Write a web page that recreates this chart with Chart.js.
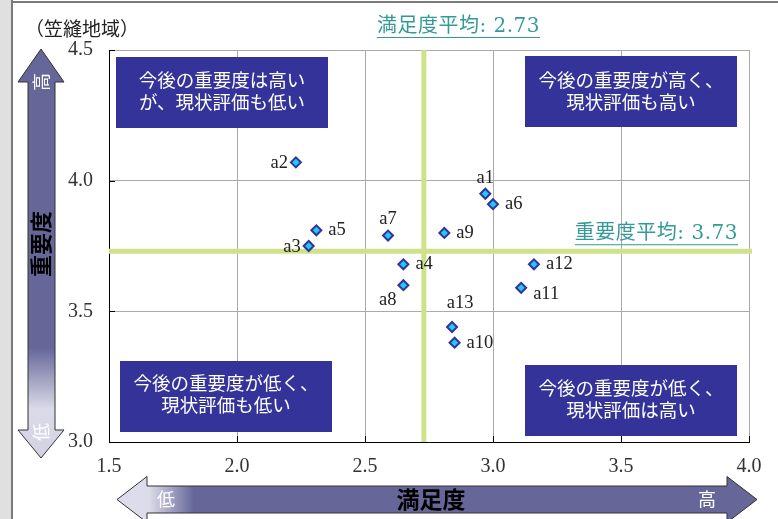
<!DOCTYPE html>
<html><head><meta charset="utf-8">
<script src="https://cdn.jsdelivr.net/npm/chart.js@4"></script>
<style>html,body{margin:0;padding:0;background:#fff}#wrap{width:778px;height:519px;position:relative}</style>
</head><body><div id="wrap"><canvas id="c"></canvas></div>
<script>
// ---- data ----
const pointNames   = ['a1','a2','a3','a4','a5','a6','a7','a8','a9','a10','a11','a12','a13'];
const satisfaction = [2.97, 2.23, 2.28, 2.65, 2.31, 3.00, 2.59, 2.65, 2.81, 2.85, 3.11, 3.16, 2.84];
const importance   = [3.95, 4.07, 3.75, 3.68, 3.81, 3.91, 3.79, 3.60, 3.80, 3.38, 3.59, 3.68, 3.44];
const labelSide    = ['above','left','left','right','right','right','above','belowLeft','right','right','rightLow','right','aboveHigh'];
const xTickValues  = [1.5, 2.0, 2.5, 3.0, 3.5, 4.0];
const yTickValues  = [3.0, 3.5, 4.0, 4.5];
const satisfactionMean = 2.73;
const importanceMean   = 3.73;
const regionTitle = '（笠縫地域）';
const xAxisTitle = '満足度';
const yAxisTitle = '重要度';
const highText = '高', lowText = '低';
const quadrantTopLeft     = ['今後の重要度は高い', 'が、現状評価も低い'];
const quadrantTopRight    = ['今後の重要度が高く、', '現状評価も高い'];
const quadrantBottomLeft  = ['今後の重要度が低く、', '現状評価も低い'];
const quadrantBottomRight = ['今後の重要度が低く、', '現状評価は高い'];

const points = satisfaction.map((x, i) => ({x: x, y: importance[i]}));
const SERIF = '"Liberation Serif", "DejaVu Serif", "Noto Sans CJK JP", serif';
const WSERIF = '"DejaVu Serif", "Noto Sans CJK JP", serif';
const SANS = '"Noto Sans CJK JP", "Noto Sans", sans-serif';
const NAVY = '#333399', ARROW = '#666699', TEAL = '#339999', MEAN = '#cfe28a';

function arrowV(ctx) {
  const g = ctx.createLinearGradient(0, 49, 0, 458);
  g.addColorStop(0, ARROW); g.addColorStop(0.73, ARROW);
  g.addColorStop(0.88, '#dadae8'); g.addColorStop(1, '#d2d2e4');
  ctx.beginPath();
  ctx.moveTo(41, 49); ctx.lineTo(64, 82); ctx.lineTo(55, 82); ctx.lineTo(55, 430);
  ctx.lineTo(64, 430); ctx.lineTo(41, 458); ctx.lineTo(18, 430); ctx.lineTo(28, 430);
  ctx.lineTo(28, 82); ctx.lineTo(18, 82); ctx.closePath();
  ctx.fillStyle = g; ctx.fill();
  ctx.strokeStyle = '#333'; ctx.lineWidth = 1; ctx.stroke();
}
function arrowH(ctx) {
  const cy = 499.5;
  const g = ctx.createLinearGradient(117, 0, 757, 0);
  g.addColorStop(0, '#dcdcea'); g.addColorStop(0.05, '#dcdcea');
  g.addColorStop(0.12, ARROW); g.addColorStop(1, ARROW);
  ctx.beginPath();
  ctx.moveTo(117, cy); ctx.lineTo(147, cy - 23); ctx.lineTo(147, cy - 13.5); ctx.lineTo(727, cy - 13.5);
  ctx.lineTo(727, cy - 23); ctx.lineTo(757, cy); ctx.lineTo(727, cy + 23); ctx.lineTo(727, cy + 13.5);
  ctx.lineTo(147, cy + 13.5); ctx.lineTo(147, cy + 23); ctx.closePath();
  ctx.fillStyle = g; ctx.fill();
  ctx.strokeStyle = '#333'; ctx.lineWidth = 1; ctx.stroke();
}
function rotText(ctx, t, x, y, font, color) {
  ctx.save(); ctx.translate(x, y); ctx.rotate(-Math.PI / 2);
  ctx.font = font; ctx.fillStyle = color; ctx.textAlign = 'center'; ctx.textBaseline = 'middle';
  ctx.fillText(t, 0, 0); ctx.restore();
}
function box(ctx, x, y, w, h, lines, line1Y) {
  ctx.fillStyle = NAVY; ctx.fillRect(x, y, w, h);
  ctx.fillStyle = '#fff'; ctx.font = '18.5px ' + SANS; ctx.textAlign = 'center'; ctx.textBaseline = 'middle';
  lines.forEach((t, i) => ctx.fillText(t, x + w / 2, line1Y + i * 22));
}
function underlined(ctx, t, x, y, align) {
  ctx.save();
  ctx.font = '20px ' + WSERIF; ctx.fillStyle = TEAL; ctx.textAlign = align; ctx.textBaseline = 'middle';
  ctx.letterSpacing = '0.5px';
  ctx.fillText(t, x, y);
  const w = ctx.measureText(t).width;
  const x0 = align === 'right' ? x - w : x;
  ctx.strokeStyle = TEAL; ctx.lineWidth = 1.2;
  ctx.beginPath(); ctx.moveTo(x0, y + 10.5); ctx.lineTo(x0 + w, y + 10.5); ctx.stroke();
  ctx.restore();
}

const decor = {
  id: 'decor',
  beforeDraw(chart) {
    const ctx = chart.ctx;
    ctx.save();
    ctx.fillStyle = '#fff'; ctx.fillRect(0, 0, 778, 519);
    ctx.fillStyle = '#e0e0e0'; ctx.fillRect(0, 0, 11, 519);
    ctx.fillStyle = '#7a7a7a'; ctx.fillRect(11, 0, 2, 519); ctx.fillRect(11, 1, 767, 2);
    arrowV(ctx); arrowH(ctx);
    rotText(ctx, yAxisTitle, 41, 244, 'bold 22px ' + SANS, '#000');
    rotText(ctx, highText, 41, 82, '18px ' + SANS, '#fff');
    rotText(ctx, lowText, 41, 432, '18px ' + SANS, '#fff');
    ctx.textAlign = 'center'; ctx.textBaseline = 'middle';
    ctx.font = 'bold 23px ' + SANS; ctx.fillStyle = '#000'; ctx.fillText(xAxisTitle, 431, 499);
    ctx.font = '18px ' + SANS; ctx.fillStyle = '#fff';
    ctx.fillText(lowText, 166, 499); ctx.fillText(highText, 707, 499);
    ctx.font = '19px ' + SANS; ctx.fillStyle = '#222'; ctx.textAlign = 'left';
    ctx.fillText(regionTitle, 25, 29);
    ctx.restore();
  },
  beforeDatasetsDraw(chart) {
    const ctx = chart.ctx, a = chart.chartArea, xs = chart.scales.x, ys = chart.scales.y;
    ctx.save();
    // inner tick marks
    ctx.strokeStyle = '#000'; ctx.lineWidth = 1;
    yTickValues.forEach(v => { const y = Math.round(ys.getPixelForValue(v)) + 0.5; ctx.beginPath(); ctx.moveTo(a.left, y); ctx.lineTo(a.left + 6, y); ctx.stroke(); });
    xTickValues.forEach(v => { const x = Math.round(xs.getPixelForValue(v)) + 0.5; ctx.beginPath(); ctx.moveTo(x, a.bottom); ctx.lineTo(x, a.bottom - 6); ctx.stroke(); });
    // quadrant boxes
    box(ctx, a.left + 7, a.top + 7, 212, 71, quadrantTopLeft, a.top + 30);
    box(ctx, a.right - 224, a.top + 6, 212, 71, quadrantTopRight, a.top + 30);
    box(ctx, a.left + 11, a.bottom - 81, 212, 71, quadrantBottomLeft, a.bottom - 59);
    box(ctx, a.right - 224, a.bottom - 77, 212, 71, quadrantBottomRight, a.bottom - 54);
    // mean lines
    ctx.strokeStyle = MEAN; ctx.lineWidth = 5;
    const mx = xs.getPixelForValue(satisfactionMean), my = ys.getPixelForValue(importanceMean);
    ctx.beginPath(); ctx.moveTo(mx, a.top); ctx.lineTo(mx, a.bottom); ctx.stroke();
    ctx.beginPath(); ctx.moveTo(a.left, my); ctx.lineTo(a.right + 3, my); ctx.stroke();
    ctx.restore();
  },
  afterDatasetsDraw(chart) {
    const ctx = chart.ctx, a = chart.chartArea, xs = chart.scales.x, ys = chart.scales.y;
    const meta = chart.getDatasetMeta(0);
    ctx.save();
    ctx.font = '18.5px ' + SERIF; ctx.fillStyle = '#222'; ctx.textBaseline = 'middle';
    meta.data.forEach((el, i) => {
      const s = labelSide[i]; let x = el.x, y = el.y;
      if (s === 'right') { ctx.textAlign = 'left'; x += 12; }
      else if (s === 'rightLow') { ctx.textAlign = 'left'; x += 12; y += 6; }
      else if (s === 'left') { ctx.textAlign = 'right'; x -= 8; y += 1; }
      else if (s === 'above') { ctx.textAlign = 'center'; y -= 16; }
      else if (s === 'aboveHigh') { ctx.textAlign = 'center'; x += 8; y -= 24; }
      else if (s === 'belowLeft') { ctx.textAlign = 'right'; x -= 7; y += 15; }
      ctx.fillText(pointNames[i], x, y);
    });
    const mx = xs.getPixelForValue(satisfactionMean), my = ys.getPixelForValue(importanceMean);
    underlined(ctx, '満足度平均: ' + satisfactionMean.toFixed(2), mx - 47, 27, 'left');
    underlined(ctx, '重要度平均: ' + importanceMean.toFixed(2), a.right - 11, my - 17, 'right');
    ctx.restore();
  }
};

new Chart(document.getElementById('c'), {
  type: 'scatter',
  data: { datasets: [{
    data: points,
    pointStyle: 'rectRot', radius: 5, hoverRadius: 5,
    backgroundColor: '#1ecbf5', borderColor: NAVY, borderWidth: 2
  }]},
  options: {
    responsive: true, maintainAspectRatio: false, animation: false,
    layout: { padding: { top: 50, right: 29, left: 0, bottom: 0 } },
    plugins: { legend: { display: false }, tooltip: { enabled: false } },
    scales: {
      x: {
        type: 'linear', min: xTickValues[0], max: xTickValues[xTickValues.length - 1],
        afterBuildTicks: s => { s.ticks = xTickValues.map(v => ({value: v})); },
        afterFit: s => { s.height = 77; },
        grid: { color: '#aaaaaa', drawTicks: false, lineWidth: 1 },
        border: { color: '#000', width: 1 },
        ticks: { padding: 13, color: '#333', font: { family: SERIF, size: 20 }, callback: v => Number(v).toFixed(1), maxRotation: 0 }
      },
      y: {
        type: 'linear', min: yTickValues[0], max: yTickValues[yTickValues.length - 1],
        afterBuildTicks: s => { s.ticks = yTickValues.map(v => ({value: v})); },
        afterFit: s => { s.width = 109; },
        grid: { color: '#aaaaaa', drawTicks: false, lineWidth: 1 },
        border: { color: '#000', width: 1 },
        ticks: { padding: 16, color: '#333', font: { family: SERIF, size: 20 }, callback: v => Number(v).toFixed(1) }
      }
    }
  },
  plugins: [decor]
});
</script>
</body></html>
